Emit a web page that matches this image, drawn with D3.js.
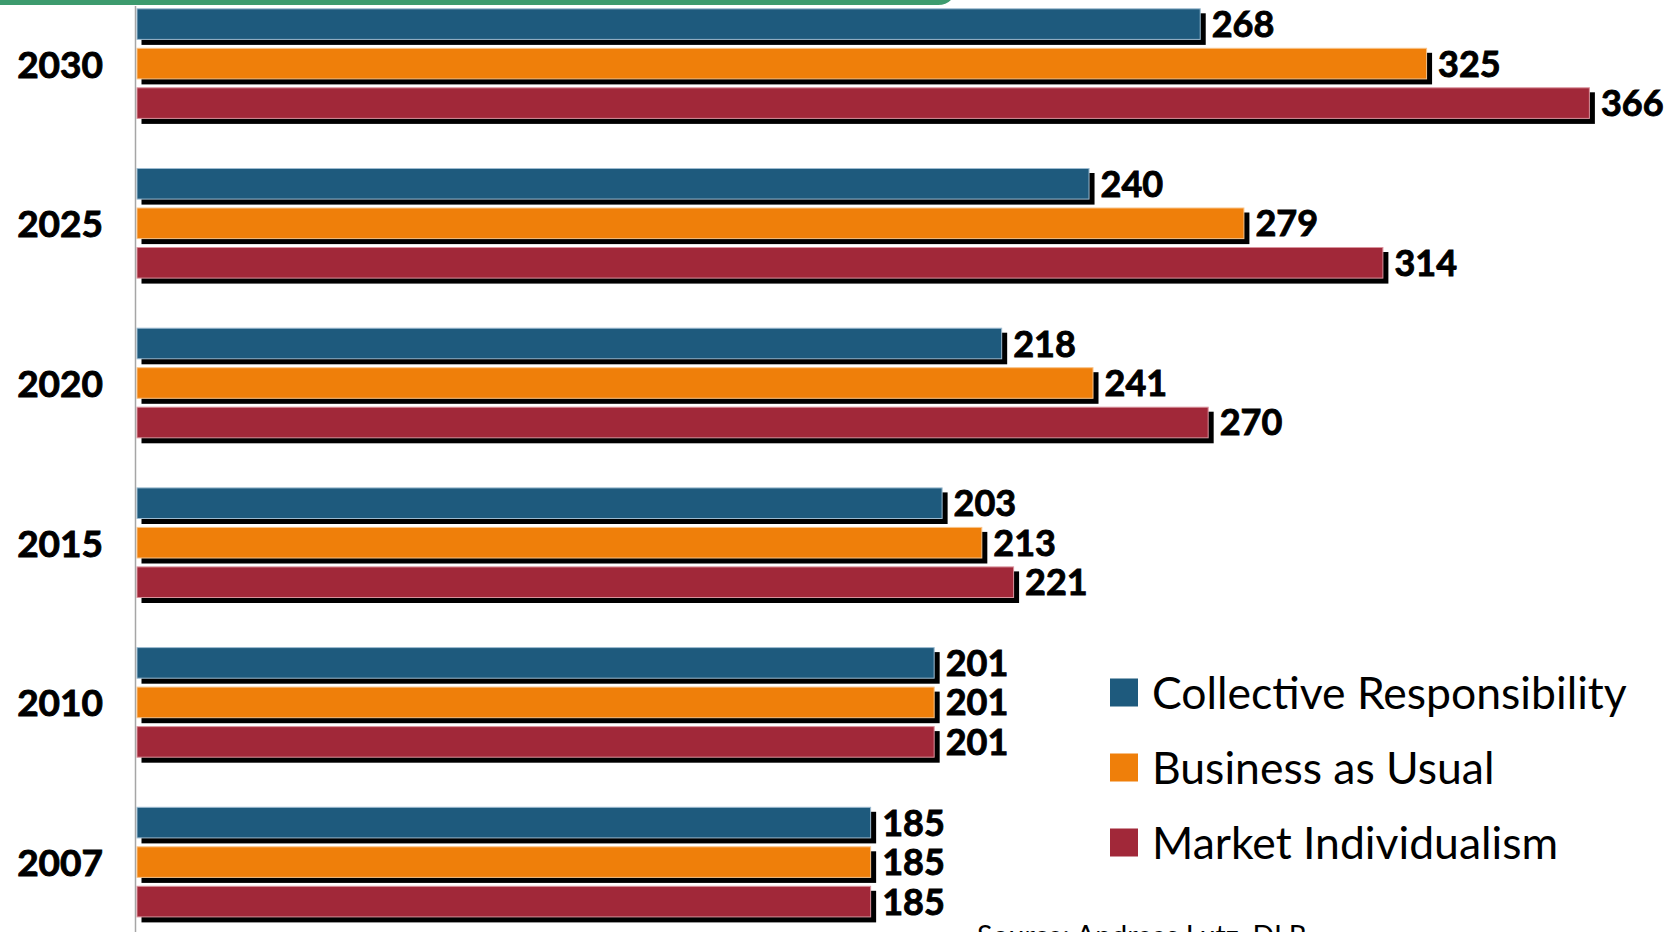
<!DOCTYPE html>
<html>
<head>
<meta charset="utf-8">
<script src="https://cdn.jsdelivr.net/npm/d3@7"></script>
<style>
  html, body { margin: 0; padding: 0; background: #fff; overflow: hidden; }
  svg { display: block; }
</style>
</head>
<body>
<svg id="chart" width="1673" height="932"></svg>
<script>
// ---- data ----
const years = ["2030", "2025", "2020", "2015", "2010", "2007"];
const seriesNames = ["Collective Responsibility", "Business as Usual", "Market Individualism"];
const collective = [268, 240, 218, 203, 201, 185];
const businessAsUsual = [325, 279, 241, 213, 201, 185];
const marketIndividualism = [366, 314, 270, 221, 201, 185];
const sourceText = "Source: Andreas Lutz, DLR";

const seriesValues = [collective, businessAsUsual, marketIndividualism];
const colors = ["#1e5a7d", "#ef7f0a", "#a12839"];
const edgeColors = ["#9dbbd0", "#f8c48a", "#d9939d"];

const svg = d3.select("#chart");
const W = 1673, H = 932;

const x0 = 136.5;
const x = d3.scaleLinear().domain([0, 366]).range([x0, x0 + 366 * 3.971]);

const y = d3.scaleBand().domain(years).range([4.35, 921.35]).paddingInner(0.258).paddingOuter(0);
const yInner = d3.scaleBand().domain(d3.range(3)).range([0, y.bandwidth()]).paddingInner(0.2).paddingOuter(0.1);

// top green border fragment
svg.append("path")
  .attr("d", "M0,2.5 L938,2.5 Q948,2.5 952,-6")
  .attr("fill", "none")
  .attr("stroke", "#3d9b6e")
  .attr("stroke-width", 5);

// axis line
svg.append("line")
  .attr("x1", 135.5).attr("x2", 135.5)
  .attr("y1", 6).attr("y2", H)
  .attr("stroke", "#a6a6a6").attr("stroke-width", 1.5);

const rows = [];
years.forEach((yr, i) => {
  seriesValues.forEach((vals, s) => rows.push({ year: yr, s, v: vals[i] }));
});

const g = svg.append("g");
// shadows
g.selectAll("rect.shadow").data(rows).enter().append("rect")
  .attr("class", "shadow")
  .attr("x", d => x(0) + 5)
  .attr("y", d => y(d.year) + yInner(d.s) + 5)
  .attr("width", d => x(d.v) - x(0))
  .attr("height", yInner.bandwidth())
  .attr("fill", "#000");
// bars
g.selectAll("rect.bar").data(rows).enter().append("rect")
  .attr("class", "bar")
  .attr("x", d => x(0) + 0.5)
  .attr("y", d => y(d.year) + yInner(d.s) + 0.5)
  .attr("width", d => x(d.v) - x(0) - 1)
  .attr("height", yInner.bandwidth() - 1)
  .attr("fill", d => colors[d.s])
  .attr("stroke", d => edgeColors[d.s])
  .attr("stroke-width", 1);
// value labels
g.selectAll("text.val").data(rows).enter().append("text")
  .attr("class", "val")
  .attr("x", d => x(d.v) + 11)
  .attr("y", d => y(d.year) + yInner(d.s) + yInner.bandwidth() / 2 + 13)
  .attr("font-family", "Lato, 'Open Sans', sans-serif")
  .attr("font-weight", "bold")
  .attr("font-size", 36)
  .attr("fill", "#000")
  .attr("stroke", "#000")
  .attr("stroke-width", 0.9)
  .text(d => d.v);

// year labels
svg.selectAll("text.year").data(years).enter().append("text")
  .attr("class", "year")
  .attr("x", 103)
  .attr("y", d => y(d) + y.bandwidth() / 2 + 14)
  .attr("text-anchor", "end")
  .attr("font-family", "Lato, 'Open Sans', sans-serif")
  .attr("font-weight", "bold")
  .attr("font-size", 37)
  .attr("fill", "#000")
  .attr("stroke", "#000")
  .attr("stroke-width", 0.9)
  .text(d => d);

// legend
const legend = svg.append("g");
seriesNames.forEach((name, i) => {
  const ly = 678.5 + i * 75;
  legend.append("rect")
    .attr("x", 1110).attr("y", ly)
    .attr("width", 28).attr("height", 28)
    .attr("fill", colors[i]);
  legend.append("text")
    .attr("x", 1152).attr("y", ly + 30)
    .attr("font-family", "Lato, 'Open Sans', sans-serif")
    .attr("font-size", 44.5)
    .attr("fill", "#000")
    .text(name);
});

// source (cut off at bottom)
svg.append("text")
  .attr("x", 977).attr("y", 946)
  .attr("font-family", "Lato, 'Open Sans', sans-serif")
  .attr("font-size", 28.5)
  .attr("fill", "#000")
  .text(sourceText);
</script>
</body>
</html>
